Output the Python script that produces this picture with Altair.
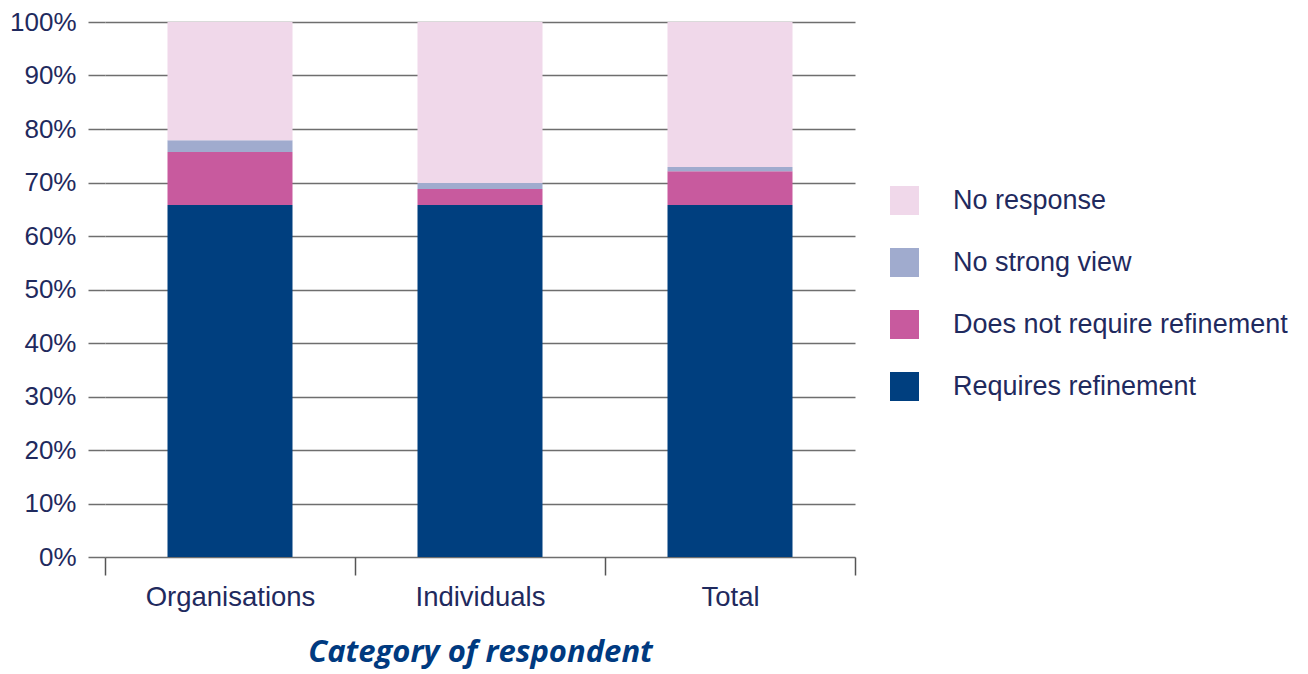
import altair as alt
import pandas as pd

categories = ["Organisations", "Individuals", "Total"]
series = ["Requires refinement", "Does not require refinement", "No strong view", "No response"]
requires_refinement = [65.8, 65.8, 65.8]
does_not_require = [9.9, 3.0, 6.3]
no_strong_view = [2.2, 1.1, 0.8]
no_response = [22.1, 30.1, 27.1]
colors = ["#003F7F", "#C85A9E", "#A0ABCE", "#F0D8EA"]
y_ticks = [0, 10, 20, 30, 40, 50, 60, 70, 80, 90, 100]

rows = []
for vals, s, o in zip([requires_refinement, does_not_require, no_strong_view, no_response], series, range(4)):
    for c, v in zip(categories, vals):
        rows.append({"category": c, "series": s, "value": v, "order": o})
df = pd.DataFrame(rows)

text_color = "#1F2A5E"
font = "Liberation Sans"

chart = alt.Chart(df).mark_bar(width=alt.RelativeBandSize(0.5)).encode(
    x=alt.X("category:N", sort=categories,
            scale=alt.Scale(paddingInner=0, paddingOuter=0),
            axis=alt.Axis(title="Category of respondent", labelAngle=0, domain=False,
                          tickBand="extent", tickSize=18, tickColor="#555", tickWidth=1.5,
                          labelFontSize=27.5, labelColor=text_color, labelFont=font,
                          labelPadding=8,
                          titleFont="Open Sans", titleFontSize=31, titleFontWeight="bold",
                          titleFontStyle="italic", titleColor="#003A80", titlePadding=27)),
    y=alt.Y("value:Q", stack="zero", scale=alt.Scale(domain=[0, 100], nice=False),
            axis=alt.Axis(title=None, values=y_ticks, labelExpr="datum.value + '%'",
                          domain=False, grid=True, gridColor="#6E6E6E", gridWidth=1.5,
                          tickSize=17, tickColor="#6E6E6E", tickWidth=1.5,
                          labelFontSize=26, labelColor=text_color, labelFont=font,
                          labelPadding=12)),
    color=alt.Color("series:N", sort=series[::-1],
                    scale=alt.Scale(domain=series[::-1], range=colors[::-1]),
                    legend=alt.Legend(title=None, orient="none", legendX=785, legendY=164,
                                      symbolType="square", symbolSize=841, symbolStrokeWidth=0,
                                      symbolOpacity=1,
                                      labelFontSize=27, labelColor=text_color, labelFont=font,
                                      labelOffset=34, rowPadding=33, padding=0,
                                      labelLimit=500)),
    order=alt.Order("order:Q"),
).properties(
    width=750, height=535,
    padding={"left": 97, "top": 14, "right": 445, "bottom": 116},
    autosize=alt.AutoSizeParams(type="none"),
).configure_view(stroke=None)

chart.save("out.html", embed_options={"renderer": "svg", "actions": False})
